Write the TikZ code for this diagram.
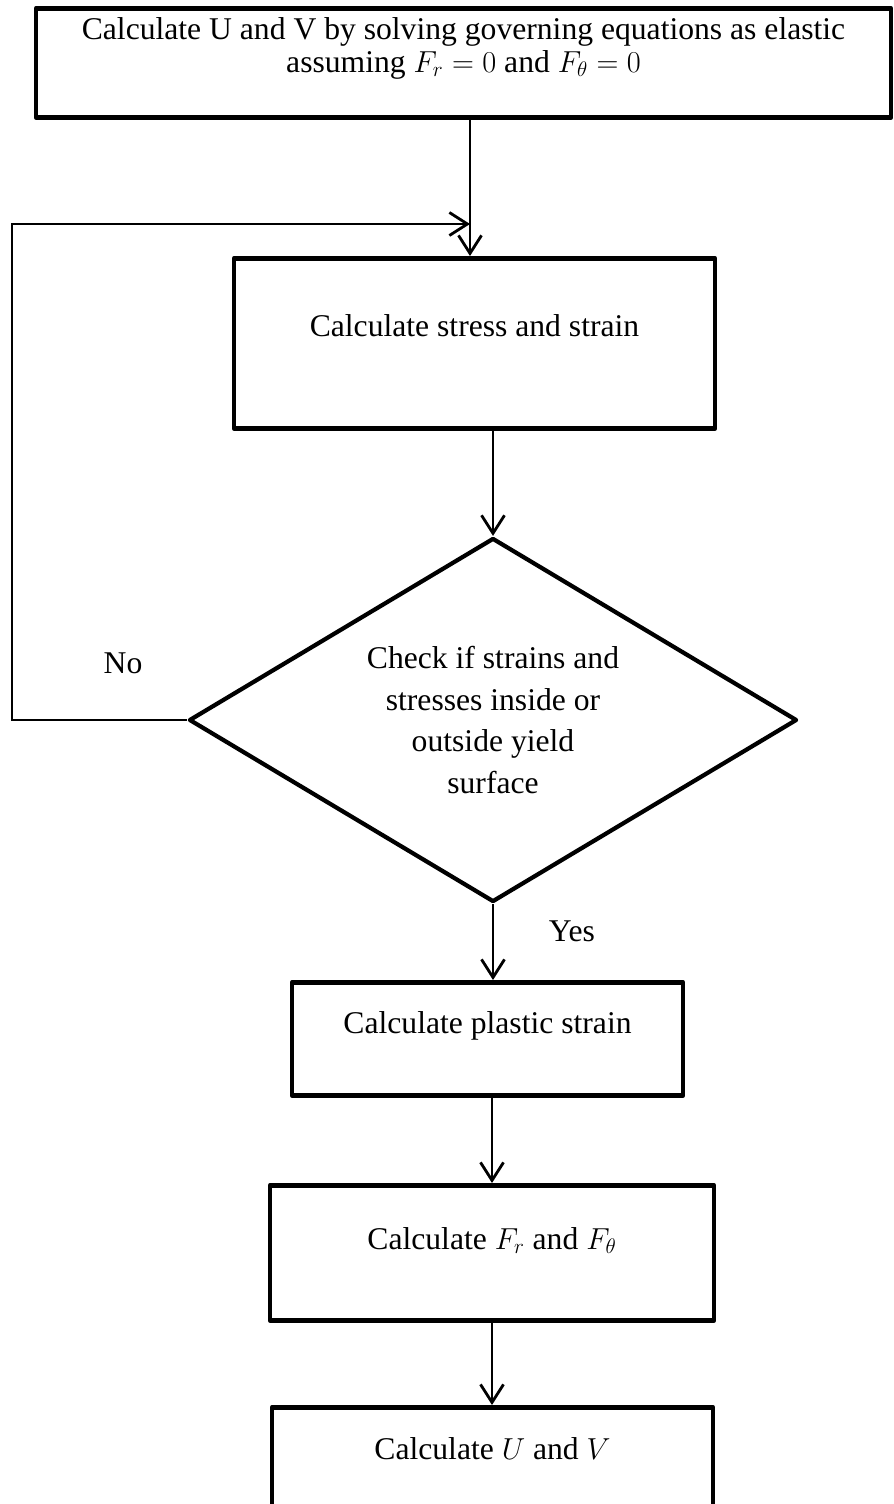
\documentclass[tikz,border=0pt]{standalone}
\usepackage{fontspec}
\setmainfont{Liberation Serif}
\usetikzlibrary{shapes.geometric,arrows.meta}

\begin{document}
\begin{tikzpicture}[font=\fontsize{18}{18.7}\selectfont,
  bx/.style={draw,line width=2.6pt,line join=round,inner xsep=0pt,inner ysep=0pt},
  dmd/.style={diamond,draw,line width=2.4pt,line join=round,inner sep=0pt,shape aspect=1.67,
    align=center,minimum width=12.16cm,minimum height=7.28cm,font=\fontsize{18}{23.8}\selectfont},
  arr/.style={-{Straight Barb[length=0.36cm,width=0.46cm,line width=1.6pt]},line width=1.6pt}]
  \useasboundingbox (0,0) rectangle (17.86,-30.08);
  % start box
  \node[bx,anchor=north,minimum width=17.1cm,align=center,text height=1.28cm,text depth=0.9cm] (start) at (9.27,-0.12)
     {Calculate U and V by solving governing equations as elastic\\assuming $F_r=0$ and $F_\theta=0$};
  % steps
  \node[bx,anchor=north,minimum width=9.62cm,text height=1.56cm,text depth=1.84cm] (calc) at (9.49,-5.12)
     {Calculate stress and strain};
  \node[dmd] (dec) at (9.86,-14.40)
     {Check if strains and\\stresses inside or\\outside yield\\surface};
  \node[bx,anchor=north,minimum width=7.82cm,text height=1.02cm,text depth=1.24cm] (plast) at (9.75,-19.60)
     {Calculate plastic strain};
  \node[bx,anchor=north,minimum width=8.88cm,text height=1.28cm,text depth=1.42cm] (force) at (9.84,-23.66)
     {Calculate $F_r$ and $F_\theta$};
  \node[bx,anchor=north,minimum width=8.82cm,text height=1.04cm,text depth=1.26cm] (uv) at (9.85,-28.10)
     {Calculate $U$ and $V$};
  % branch labels
  \node (no) at (2.46,-13.26) {No};
  \node (yes) at (11.44,-18.62) {Yes};
  % loop back
  \coordinate (loopc) at (0.24,-4.48);
  \coordinate (join) at (9.40,-4.48);
  \draw[arr] (dec.west) -- (dec.west -| loopc) -- (loopc) -- (join);
  % arrows
  \draw[arr] (start.south -| join) -- (join |- calc.north);
  \draw[arr] (calc.south -| dec.north) -- (dec.north);
  \draw[arr] (dec.south) -- (dec.south |- plast.north);
  \draw[arr] (force.north |- plast.south) -- (force.north);
  \draw[arr] (force.south) -- (force.south |- uv.north);
\end{tikzpicture}
\end{document}
